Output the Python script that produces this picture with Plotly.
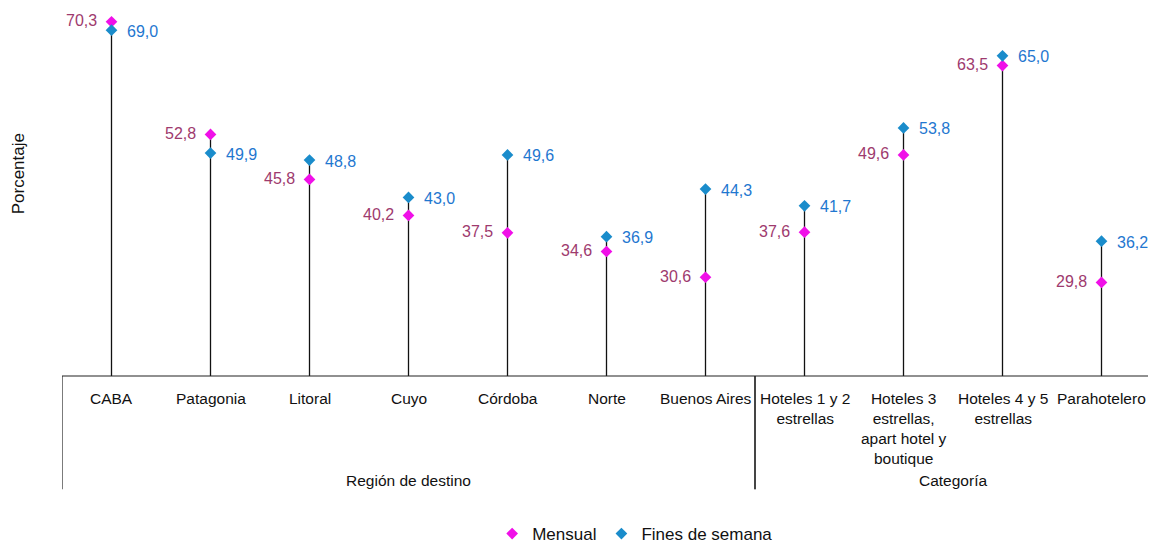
import plotly.graph_objects as go

categories = ["CABA", "Patagonia", "Litoral", "Cuyo", "Córdoba", "Norte", "Buenos Aires",
              "Hoteles 1 y 2<br>estrellas", "Hoteles 3<br>estrellas,<br>apart hotel y<br>boutique",
              "Hoteles 4 y 5<br>estrellas", "Parahotelero"]
mensual = [70.3, 52.8, 45.8, 40.2, 37.5, 34.6, 30.6, 37.6, 49.6, 63.5, 29.8]
fines = [69.0, 49.9, 48.8, 43.0, 49.6, 36.9, 44.3, 41.7, 53.8, 65.0, 36.2]
groups = [("Región de destino", 0, 6), ("Categoría", 7, 10)]

# page keeps the default 8px body margin; figure coordinates are window coordinates minus 8
W, H = 1156, 544
L, R, T, B = 54, 13, 0, 170
PH = H - T - B
PW = W - L - R
Y_MIN, Y_MAX = 15.25, 72.44

def fmt(v):
    return f"{v:.1f}".replace(".", ",")

xs = list(range(len(categories)))
fig = go.Figure()

# drop lines
lx, ly = [], []
for i in xs:
    lx += [i, i, None]
    ly += [Y_MIN, max(mensual[i], fines[i]), None]
fig.add_trace(go.Scatter(x=lx, y=ly, mode="lines", line=dict(color="#111111", width=1.3),
                         showlegend=False, hoverinfo="skip"))

fig.add_trace(go.Scatter(x=xs, y=mensual, mode="markers", name="Mensual",
                         marker=dict(symbol="diamond", size=9, color="#F010E8")))
fig.add_trace(go.Scatter(x=xs, y=fines, mode="markers", name="Fines de semana",
                         marker=dict(symbol="diamond", size=9, color="#1A8CCB")))

ann = []
for i in xs:
    ann.append(dict(x=i, y=mensual[i], text=fmt(mensual[i]), xref="x", yref="y", showarrow=False,
                    xanchor="right", yanchor="middle", xshift=-13, yshift=1,
                    font=dict(size=16, color="#9E3A6E")))
    ann.append(dict(x=i, y=fines[i], text=fmt(fines[i]), xref="x", yref="y", showarrow=False,
                    xanchor="left", yanchor="middle", xshift=13, yshift=-1,
                    font=dict(size=16, color="#1F77D0")))
    ann.append(dict(x=i, y=-12 / PH, text=categories[i], xref="x", yref="paper",
                    showarrow=False, xanchor="center", yanchor="top",
                    font=dict(size=15.5, color="#111")))

shapes = []
for name, a, b in groups:
    ann.append(dict(x=(a + b) / 2, y=-(480 - PH) / PH, text=name, xref="x", yref="paper",
                    showarrow=False, xanchor="center", yanchor="middle",
                    font=dict(size=15.5, color="#111")))
    for xv in (a - 0.5, b + 0.5):
        shapes.append(dict(type="line", xref="x", yref="paper", x0=xv, x1=xv, y0=0,
                           y1=-(489 - PH) / PH, line=dict(color="#222", width=1.2)))

shapes.append(dict(type="line", xref="paper", yref="paper", x0=0, x1=1, y0=0, y1=0,
                   line=dict(color="#222", width=1.2)))

ann.append(dict(x=(10 - L) / PW, y=(PH - 168) / PH, text="Porcentaje", xref="paper",
                yref="paper", textangle=-90, showarrow=False, xanchor="center", yanchor="middle",
                font=dict(size=17, color="#111")))

fig.update_layout(
    width=W, height=H,
    margin=dict(l=L, r=R, t=T, b=B),
    paper_bgcolor="white", plot_bgcolor="white",
    font=dict(family="Liberation Sans, Arial, sans-serif", size=14, color="#111"),
    xaxis=dict(range=[-0.5, len(categories) - 0.5], showticklabels=False, showgrid=False,
               zeroline=False, showline=False, ticks=""),
    yaxis=dict(range=[Y_MIN, Y_MAX], visible=False, showgrid=False, zeroline=False),
    showlegend=True,
    legend=dict(orientation="h", x=0.395, xanchor="left", y=-(535 - PH) / PH, yanchor="middle",
                font=dict(size=17), itemwidth=30, tracegroupgap=0),
    annotations=ann, shapes=shapes,
)
fig.write_html("out.html", config={"displayModeBar": False})
